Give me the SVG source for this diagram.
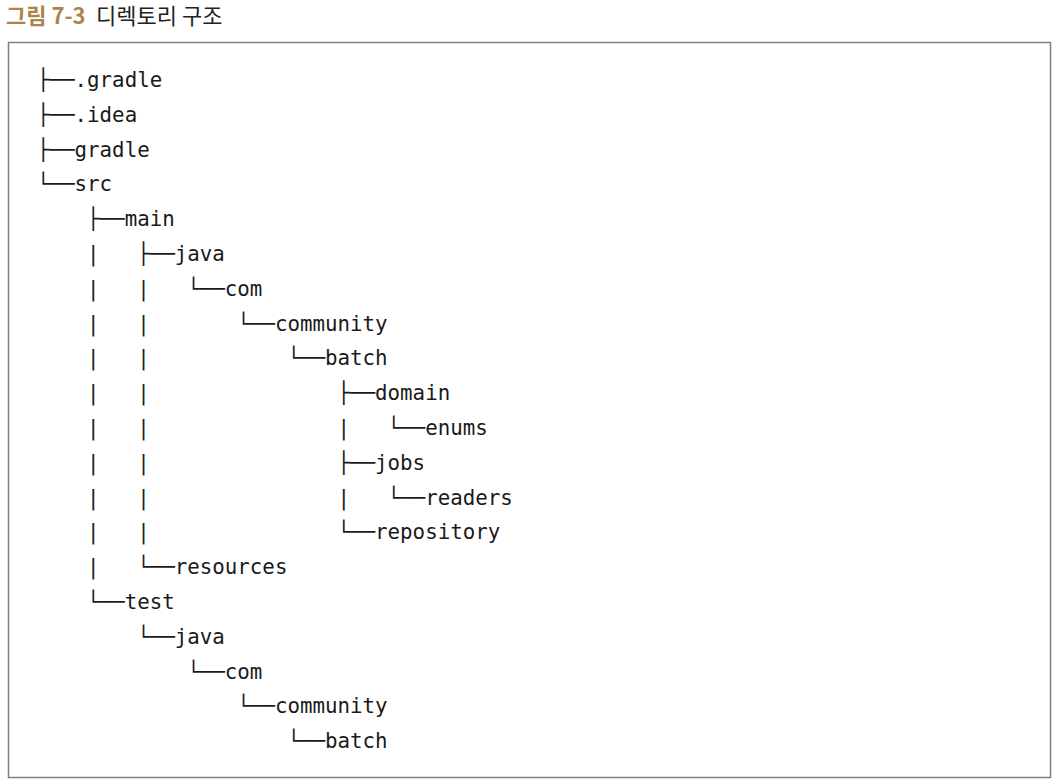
<svg xmlns="http://www.w3.org/2000/svg" width="1058" height="784" viewBox="0 0 1058 784">
<style>
.t{font-family:"DejaVu Sans Mono","Liberation Mono",monospace;font-size:20.8px;fill:#1a1a1a;white-space:pre}
.cap{font-family:"Noto Sans CJK KR","Noto Sans",sans-serif;font-size:22px}
</style>
<rect width="1058" height="784" fill="#ffffff"/>
<g id="caption">
<text x="6" y="24" class="cap" fill="#a98547" font-weight="bold">그림 7-3</text>
<text x="96" y="24" class="cap" fill="#222222">디렉토리 구조</text>
</g>
<rect x="8.5" y="42.5" width="1042" height="735" fill="none" stroke="#808080" stroke-width="1.5"/>
<g id="connectors"></g>
<g id="n0"><text class="t" x="37" y="87" xml:space="preserve">├──.gradle</text></g>
<g id="n1"><text class="t" x="37" y="121.8" xml:space="preserve">├──.idea</text></g>
<g id="n2"><text class="t" x="37" y="156.6" xml:space="preserve">├──gradle</text></g>
<g id="n3"><text class="t" x="37" y="191.4" xml:space="preserve">└──src</text></g>
<g id="n4"><text class="t" x="37" y="226.2" xml:space="preserve">    ├──main</text></g>
<g id="n5"><text class="t" x="37" y="261" xml:space="preserve">    |   ├──java</text></g>
<g id="n6"><text class="t" x="37" y="295.8" xml:space="preserve">    |   |   └──com</text></g>
<g id="n7"><text class="t" x="37" y="330.6" xml:space="preserve">    |   |       └──community</text></g>
<g id="n8"><text class="t" x="37" y="365.4" xml:space="preserve">    |   |           └──batch</text></g>
<g id="n9"><text class="t" x="37" y="400.2" xml:space="preserve">    |   |               ├──domain</text></g>
<g id="n10"><text class="t" x="37" y="435" xml:space="preserve">    |   |               |   └──enums</text></g>
<g id="n11"><text class="t" x="37" y="469.8" xml:space="preserve">    |   |               ├──jobs</text></g>
<g id="n12"><text class="t" x="37" y="504.6" xml:space="preserve">    |   |               |   └──readers</text></g>
<g id="n13"><text class="t" x="37" y="539.4" xml:space="preserve">    |   |               └──repository</text></g>
<g id="n14"><text class="t" x="37" y="574.2" xml:space="preserve">    |   └──resources</text></g>
<g id="n15"><text class="t" x="37" y="609" xml:space="preserve">    └──test</text></g>
<g id="n16"><text class="t" x="37" y="643.8" xml:space="preserve">        └──java</text></g>
<g id="n17"><text class="t" x="37" y="678.6" xml:space="preserve">            └──com</text></g>
<g id="n18"><text class="t" x="37" y="713.4" xml:space="preserve">                └──community</text></g>
<g id="n19"><text class="t" x="37" y="748.2" xml:space="preserve">                    └──batch</text></g>
</svg>
